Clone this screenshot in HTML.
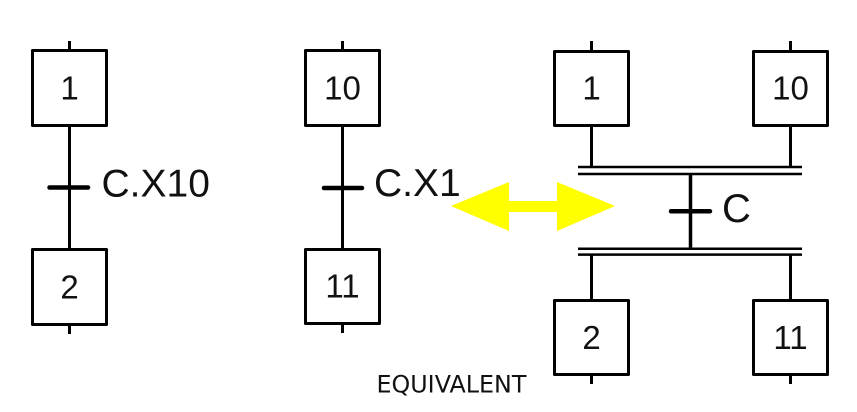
<!DOCTYPE html>
<html>
<head>
<meta charset="utf-8">
<style>
  html, body { margin: 0; padding: 0; background: #ffffff; }
  body { width: 857px; height: 412px; overflow: hidden; }
  svg { display: block; }
  .num { font-family: "Liberation Sans", Arial, sans-serif; font-size: 33px; fill: #111; text-anchor: middle; }
  .lbl { font-family: "Liberation Sans", Arial, sans-serif; font-size: 39px; fill: #111; }
  .eq { font-family: "DejaVu Sans", "Liberation Sans", sans-serif; font-size: 23.8px; fill: #111; }
</style>
</head>
<body>
<svg width="857" height="412" viewBox="0 0 857 412" xmlns="http://www.w3.org/2000/svg">
  <g fill="none" stroke="#000" stroke-width="3" stroke-linejoin="round">
    <!-- Left chain: 1 -> 2 -->
    <line x1="69.5" y1="41" x2="69.5" y2="50"/>
    <rect x="32.5" y="50.5" width="74" height="75"/>
    <line x1="69.5" y1="127" x2="69.5" y2="249"/>
    <rect x="32.5" y="249.5" width="74" height="75"/>
    <line x1="69.5" y1="326" x2="69.5" y2="334"/>

    <!-- Middle chain: 10 -> 11 -->
    <line x1="342.5" y1="41" x2="342.5" y2="50"/>
    <rect x="305.5" y="50.5" width="74" height="75"/>
    <line x1="342.5" y1="127" x2="342.5" y2="249"/>
    <rect x="305.5" y="249.5" width="74" height="74"/>
    <line x1="342.5" y1="325" x2="342.5" y2="333"/>

    <!-- Right: synchronized -->
    <line x1="591.5" y1="41" x2="591.5" y2="51"/>
    <rect x="554.5" y="51.5" width="74" height="74"/>
    <line x1="790.5" y1="41" x2="790.5" y2="51"/>
    <rect x="753.5" y="51.5" width="74" height="74"/>
    <line x1="591.5" y1="127" x2="591.5" y2="167"/>
    <line x1="790.5" y1="127" x2="790.5" y2="167"/>

    <line x1="690.5" y1="174" x2="690.5" y2="249" stroke-width="3.5"/>

    <line x1="591.5" y1="255" x2="591.5" y2="300"/>
    <line x1="790.5" y1="255" x2="790.5" y2="300"/>
    <rect x="554.5" y="300.5" width="74" height="74"/>
    <rect x="753.5" y="300.5" width="74" height="74"/>
    <line x1="591.5" y1="376" x2="591.5" y2="384"/>
    <line x1="790.5" y1="376" x2="790.5" y2="384"/>
  </g>

  <!-- double bars -->
  <g stroke="#000" stroke-width="2.5">
    <line x1="578" y1="167" x2="802" y2="167"/>
    <line x1="578" y1="174" x2="802" y2="174"/>
    <line x1="578" y1="248.8" x2="802" y2="248.8"/>
    <line x1="578" y1="254.6" x2="802" y2="254.6"/>
  </g>

  <!-- transition bars -->
  <g stroke="#000" stroke-width="4.5" stroke-linecap="round">
    <line x1="49.5" y1="187.5" x2="88" y2="187.5"/>
    <line x1="324" y1="188" x2="362" y2="188"/>
    <line x1="671" y1="211.3" x2="710" y2="211.3"/>
  </g>

  <!-- yellow double arrow -->
  <polygon fill="#ffff00" points="451,206 509,182 509,201 557,201 557,182 615,206 557,231 557,212 509,212 509,231"/>

  <!-- step numbers -->
  <text class="num" x="69.5" y="99.5">1</text>
  <text class="num" x="69.5" y="298.5">2</text>
  <text class="num" x="342.5" y="99.5">10</text>
  <text class="num" x="342.5" y="297.7">11</text>
  <text class="num" x="591.5" y="99.5">1</text>
  <text class="num" x="790.5" y="99.5">10</text>
  <text class="num" x="591.5" y="349">2</text>
  <text class="num" x="790.5" y="349">11</text>

  <!-- transition labels -->
  <text class="lbl" x="101.5" y="196.5">C.X10</text>
  <text class="lbl" x="374" y="196">C.X1</text>
  <text class="lbl" x="722" y="222" style="font-size:40px">C</text>

  <text class="eq" x="376.5" y="392.3">EQUIVALENT</text>
</svg>
</body>
</html>
